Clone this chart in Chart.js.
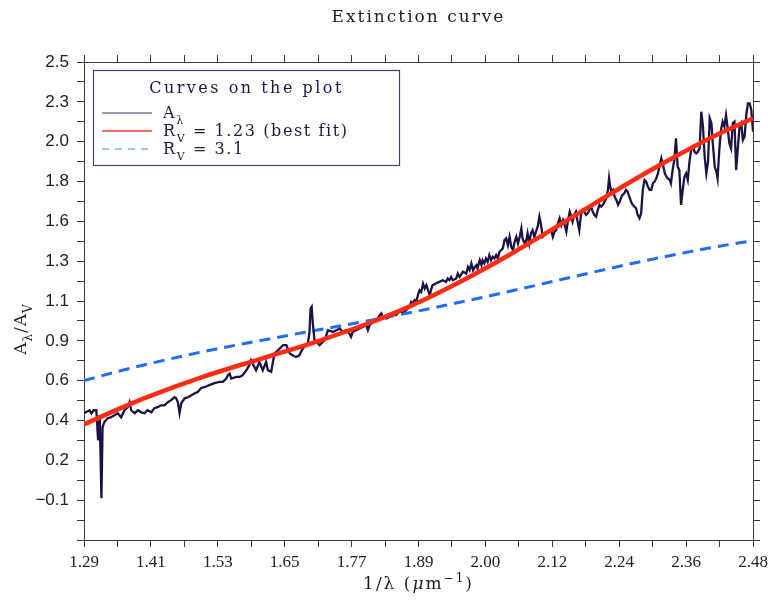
<!DOCTYPE html>
<html>
<head>
<meta charset="utf-8">
<title>Extinction curve</title>
<script src="https://cdn.jsdelivr.net/npm/chart.js@4.4.1/dist/chart.umd.min.js"></script>
<style>
  html, body { margin: 0; padding: 0; background: #fff; }
  #wrap { width: 776px; height: 600px; }
</style>
</head>
<body>
<div id="wrap"><canvas id="chart" width="776" height="600"></canvas></div>
<script>
// observed extinction A_lambda / A_V against inverse wavelength (1/um)
var invLambda = [
  1.290,1.294,1.300,1.303,1.307,1.312,1.315,1.318,1.321,1.323,
  1.326,1.332,1.338,1.344,1.350,1.356,1.362,1.368,1.371,1.374,
  1.380,1.386,1.392,1.398,1.403,1.410,1.415,1.421,1.427,1.433,
  1.439,1.445,1.451,1.454,1.457,1.460,1.463,1.469,1.475,1.481,
  1.487,1.492,1.498,1.504,1.513,1.522,1.531,1.537,1.543,1.546,
  1.549,1.552,1.561,1.567,1.572,1.579,1.584,1.587,1.590,1.596,
  1.602,1.608,1.614,1.617,1.623,1.626,1.629,1.638,1.644,1.650,
  1.656,1.661,1.667,1.673,1.679,1.685,1.688,1.691,1.693,1.695,
  1.697,1.700,1.709,1.718,1.724,1.733,1.739,1.745,1.750,1.756,
  1.762,1.765,1.768,1.774,1.780,1.786,1.792,1.795,1.798,1.804,
  1.810,1.816,1.819,1.821,1.828,1.833,1.839,1.845,1.851,1.857,
  1.863,1.869,1.872,1.875,1.878,1.881,1.884,1.887,1.890,1.893,
  1.896,1.899,1.902,1.905,1.908,1.910,1.916,1.922,1.928,1.934,
  1.937,1.940,1.943,1.946,1.952,1.955,1.958,1.964,1.970,1.973,
  1.976,1.979,1.982,1.985,1.988,1.990,1.994,1.997,1.999,2.002,
  2.005,2.008,2.011,2.014,2.017,2.020,2.023,2.026,2.029,2.032,
  2.035,2.038,2.041,2.044,2.047,2.050,2.053,2.056,2.059,2.062,
  2.065,2.068,2.070,2.074,2.077,2.079,2.082,2.085,2.088,2.091,
  2.094,2.097,2.100,2.103,2.106,2.109,2.112,2.115,2.118,2.121,
  2.124,2.127,2.130,2.133,2.136,2.139,2.142,2.145,2.148,2.151,
  2.154,2.157,2.159,2.162,2.165,2.168,2.171,2.174,2.177,2.180,
  2.183,2.186,2.189,2.192,2.195,2.198,2.201,2.204,2.207,2.210,
  2.213,2.216,2.219,2.222,2.224,2.226,2.228,2.231,2.234,2.237,
  2.240,2.243,2.246,2.248,2.251,2.254,2.257,2.260,2.263,2.266,
  2.269,2.272,2.275,2.278,2.281,2.284,2.287,2.290,2.293,2.296,
  2.299,2.302,2.305,2.308,2.311,2.314,2.317,2.320,2.323,2.326,
  2.328,2.332,2.334,2.337,2.340,2.343,2.346,2.349,2.352,2.355,
  2.358,2.361,2.364,2.367,2.370,2.373,2.376,2.379,2.382,2.385,
  2.388,2.391,2.394,2.397,2.400,2.403,2.406,2.408,2.412,2.415,
  2.417,2.420,2.423,2.426,2.429,2.432,2.435,2.438,2.441,2.444,
  2.447,2.450,2.453,2.456,2.459,2.462,2.465,2.468,2.471,2.474,
  2.477,2.480
];
var aLambda = [
  0.443,0.450,0.460,0.441,0.460,0.460,0.284,0.431,-0.056,0.360,
  0.390,0.413,0.419,0.431,0.443,0.419,0.460,0.478,0.507,0.460,
  0.443,0.460,0.448,0.443,0.460,0.448,0.472,0.478,0.489,0.489,
  0.507,0.519,0.536,0.530,0.507,0.443,0.501,0.530,0.536,0.548,
  0.560,0.566,0.589,0.595,0.607,0.619,0.626,0.626,0.646,0.665,
  0.675,0.646,0.655,0.655,0.665,0.695,0.724,0.753,0.734,0.695,
  0.743,0.695,0.743,0.695,0.685,0.743,0.792,0.821,0.841,0.841,
  0.792,0.782,0.772,0.782,0.821,0.841,0.851,0.912,1.056,1.066,
  0.969,0.871,0.841,0.871,0.929,0.919,0.929,0.939,0.919,0.929,
  0.910,0.890,0.919,0.929,0.939,0.948,0.958,0.929,0.958,0.978,
  0.988,1.017,1.027,1.007,0.998,1.007,1.027,1.017,1.037,1.037,
  1.046,1.066,1.095,1.085,1.105,1.095,1.134,1.163,1.153,1.202,
  1.173,1.193,1.163,1.134,1.173,1.193,1.202,1.212,1.222,1.212,
  1.232,1.222,1.241,1.222,1.232,1.261,1.241,1.271,1.261,1.300,
  1.281,1.320,1.281,1.300,1.310,1.291,1.339,1.310,1.339,1.320,
  1.349,1.329,1.369,1.339,1.359,1.349,1.369,1.349,1.388,1.398,
  1.408,1.457,1.467,1.427,1.476,1.418,1.398,1.447,1.476,1.437,
  1.476,1.525,1.467,1.437,1.457,1.496,1.437,1.496,1.515,1.476,
  1.506,1.535,1.594,1.545,1.476,1.486,1.496,1.506,1.506,1.515,
  1.476,1.506,1.515,1.555,1.584,1.545,1.574,1.545,1.506,1.574,
  1.623,1.594,1.565,1.604,1.623,1.565,1.515,1.604,1.634,1.623,
  1.604,1.613,1.634,1.653,1.623,1.604,1.594,1.634,1.663,1.653,
  1.663,1.682,1.702,1.751,1.819,1.770,1.740,1.751,1.711,1.692,
  1.663,1.682,1.711,1.721,1.731,1.751,1.740,1.711,1.682,1.663,
  1.653,1.643,1.604,1.584,1.613,1.751,1.809,1.799,1.770,1.751,
  1.751,1.790,1.799,1.819,1.849,1.897,1.936,1.897,1.849,1.828,
  1.819,1.809,1.789,1.867,1.926,2.053,1.886,1.867,1.663,1.751,
  1.828,1.848,1.809,1.916,1.984,2.004,1.974,1.965,1.974,1.994,
  2.209,2.121,1.945,1.848,1.916,2.170,2.141,2.043,1.886,1.857,
  1.818,1.984,2.101,2.150,2.121,2.189,2.111,2.023,1.994,2.141,
  2.150,1.867,1.994,2.121,2.141,2.043,2.062,2.189,2.258,2.258,
  2.219,2.092
];

// model curves, sampled on a coarser grid
var curveX = [1.29, 1.35, 1.40, 1.50, 1.60, 1.70, 1.80, 1.85, 1.90, 1.95, 2.00, 2.05, 2.10, 2.20, 2.30, 2.40, 2.48];
var rvBest = [0.377, 0.465, 0.534, 0.654, 0.757, 0.858, 0.974, 1.041, 1.115, 1.196, 1.284, 1.377, 1.474, 1.675, 1.870, 2.048, 2.171];
var rv31 = [0.634, 0.687, 0.728, 0.802, 0.866, 0.927, 0.987, 1.019, 1.052, 1.087, 1.122, 1.159, 1.196, 1.272, 1.344, 1.409, 1.454];

var xTickLabels = ['1.29', '1.41', '1.53', '1.65', '1.77', '1.89', '2.00', '2.12', '2.24', '2.36', '2.48'];
var yTickLabels = ['', '\u22120.1', '0.2', '0.4', '0.6', '0.9', '1.1', '1.3', '1.6', '1.8', '2.0', '2.3', '2.5'];

var xMin = 1.29, xMax = 2.48, yMin = -0.3, yMax = 2.5;

var chartTitle = 'Extinction curve';
var legendTitle = 'Curves on the plot';

// [text, mode]  mode 0 plain, 1 subscript, 2 superscript, 3 italic
var yTitle = [['A', 0], ['\u03bb', 1], ['/A', 0], ['V', 1]];
var xTitle = [['1/\u03bb (', 0], ['\u03bc', 3], ['m', 0], ['\u22121', 2], [')', 0]];
var legendRows = [
  [['A', 0], ['\u03bb', 1]],
  [['R', 0], ['V', 1], [' = 1.23 (best fit)', 0]],
  [['R', 0], ['V', 1], [' = 3.1', 0]]
];

var INK = '#22163f';
var SERIF = '"DejaVu Serif"';

function pairs(xs, ys) {
  return xs.map(function (x, i) { return { x: x, y: ys[i] }; });
}

// major ticks plus one minor tick between each pair
function splitTicks(min, max, majors) {
  return function (scale) {
    var n = majors * 2, out = [];
    for (var i = 0; i <= n; i++) out.push({ value: min + (max - min) * i / n });
    scale.ticks = out;
  };
}

function partFont(mode, size) {
  var s = (mode === 1 || mode === 2) ? Math.round(size * 0.68) : size;
  return (mode === 3 ? 'italic ' : '') + s + 'px ' + SERIF;
}

function richWidth(ctx, parts, size) {
  var w = 0;
  parts.forEach(function (p) {
    ctx.font = partFont(p[1], size);
    w += ctx.measureText(p[0]).width;
  });
  return w;
}

function drawRich(ctx, parts, x, y, size) {
  parts.forEach(function (p) {
    ctx.font = partFont(p[1], size);
    var dy = p[1] === 1 ? size * 0.38 : (p[1] === 2 ? -size * 0.42 : 0);
    ctx.fillText(p[0], x, y + dy);
    x += ctx.measureText(p[0]).width;
  });
}

var decorations = {
  id: 'decorations',
  afterDraw: function (chart) {
    var ctx = chart.ctx, a = chart.chartArea;
    var cx = (a.left + a.right) / 2;
    ctx.save();
    ctx.textBaseline = 'alphabetic';
    ctx.textAlign = 'left';

    // title
    ctx.fillStyle = '#1e1e1e';
    ctx.letterSpacing = '2px';
    ctx.font = '17px ' + SERIF;
    var tw = ctx.measureText(chartTitle).width;
    ctx.fillText(chartTitle, cx - tw / 2, 22);

    // axis titles
    ctx.letterSpacing = '2px';
    ctx.fillStyle = '#1e1e1e';
    var xw = richWidth(ctx, xTitle, 17);
    drawRich(ctx, xTitle, cx - xw / 2, 589, 17);

    ctx.letterSpacing = '1px';
    ctx.save();
    ctx.translate(26, (a.top + a.bottom) / 2 + 28);
    ctx.rotate(-Math.PI / 2);
    var yw = richWidth(ctx, yTitle, 17);
    drawRich(ctx, yTitle, -yw / 2, 0, 17);
    ctx.restore();

    // legend box
    var bx = 93.5, by = 70.5, bw = 306, bh = 95;
    ctx.fillStyle = '#fff';
    ctx.fillRect(bx, by, bw, bh);
    ctx.strokeStyle = '#4b3c72';
    ctx.lineWidth = 1.2;
    ctx.strokeRect(bx, by, bw, bh);

    ctx.fillStyle = INK;
    ctx.letterSpacing = '2.5px';
    ctx.font = '16px ' + SERIF;
    var lw = ctx.measureText(legendTitle).width;
    ctx.fillText(legendTitle, bx + bw / 2 - lw / 2, 93);

    var styles = chart.data.datasets;
    var rowY = [113, 131, 149];
    legendRows.forEach(function (row, i) {
      var ds = styles[i];
      ctx.save();
      ctx.strokeStyle = ds.legendColor;
      ctx.lineWidth = ds.legendWidth;
      ctx.setLineDash(ds.legendDash || []);
      ctx.beginPath();
      ctx.moveTo(102, rowY[i]);
      ctx.lineTo(152, rowY[i]);
      ctx.stroke();
      ctx.restore();
      ctx.fillStyle = INK;
      ctx.letterSpacing = '1.6px';
      drawRich(ctx, row, 163, rowY[i] + 5, 16);
    });
    ctx.restore();
  }
};

var gridStyle = { drawOnChartArea: false, drawTicks: true, tickLength: 7, color: '#3a3a3a', lineWidth: 1 };
var borderStyle = { display: true, color: '#3a3a3a', width: 1 };

new Chart(document.getElementById('chart').getContext('2d'), {
  type: 'scatter',
  data: {
    datasets: [{
      label: 'A\u03bb',
      data: pairs(invLambda, aLambda),
      showLine: true,
      borderColor: '#1e1245',
      borderWidth: 2.3,
      pointRadius: 0,
      tension: 0,
      order: 1,
      legendColor: '#3a2d66', legendWidth: 1
    }, {
      label: 'RV = 1.23 (best fit)',
      data: pairs(curveX, rvBest),
      showLine: true,
      borderColor: '#ff2b12',
      borderWidth: 4.5,
      pointRadius: 0,
      cubicInterpolationMode: 'monotone',
      order: 0,
      legendColor: '#ff6a5e', legendWidth: 2
    }, {
      label: 'RV = 3.1',
      data: pairs(curveX, rv31),
      showLine: true,
      borderColor: '#1f6cff',
      borderWidth: 3,
      borderDash: [11, 7],
      pointRadius: 0,
      cubicInterpolationMode: 'monotone',
      order: 2,
      legendColor: '#3a86ff', legendWidth: 1.2, legendDash: [7, 6]
    }]
  },
  options: {
    responsive: false,
    animation: false,
    layout: { padding: 0 },
    plugins: { legend: { display: false }, tooltip: { enabled: false }, title: { display: false } },
    scales: {
      x: {
        type: 'linear', position: 'bottom', min: xMin, max: xMax,
        afterBuildTicks: splitTicks(xMin, xMax, 10),
        ticks: {
          autoSkip: false, maxRotation: 0, padding: 5, color: '#222',
          font: { family: 'Liberation Serif', size: 17 },
          callback: function (v, i) { return i % 2 ? '' : xTickLabels[i / 2]; }
        },
        grid: gridStyle, border: borderStyle,
        afterFit: function (s) { s.height = 60; }
      },
      xTop: {
        type: 'linear', position: 'top', min: xMin, max: xMax,
        afterBuildTicks: splitTicks(xMin, xMax, 10),
        ticks: { display: false },
        grid: gridStyle, border: borderStyle,
        afterFit: function (s) { s.height = 62; }
      },
      y: {
        type: 'linear', position: 'left', min: yMin, max: yMax,
        afterBuildTicks: splitTicks(yMin, yMax, 12),
        ticks: {
          autoSkip: false, padding: 8, color: '#222',
          font: { family: 'Liberation Sans', size: 17 },
          callback: function (v, i) { return i % 2 ? '' : yTickLabels[i / 2]; }
        },
        grid: gridStyle, border: borderStyle,
        afterFit: function (s) { s.width = 84; }
      },
      yRight: {
        type: 'linear', position: 'right', min: yMin, max: yMax,
        afterBuildTicks: splitTicks(yMin, yMax, 12),
        ticks: { display: false },
        grid: gridStyle, border: borderStyle,
        afterFit: function (s) { s.width = 23; }
      }
    }
  },
  plugins: [decorations]
});
</script>
</body>
</html>
